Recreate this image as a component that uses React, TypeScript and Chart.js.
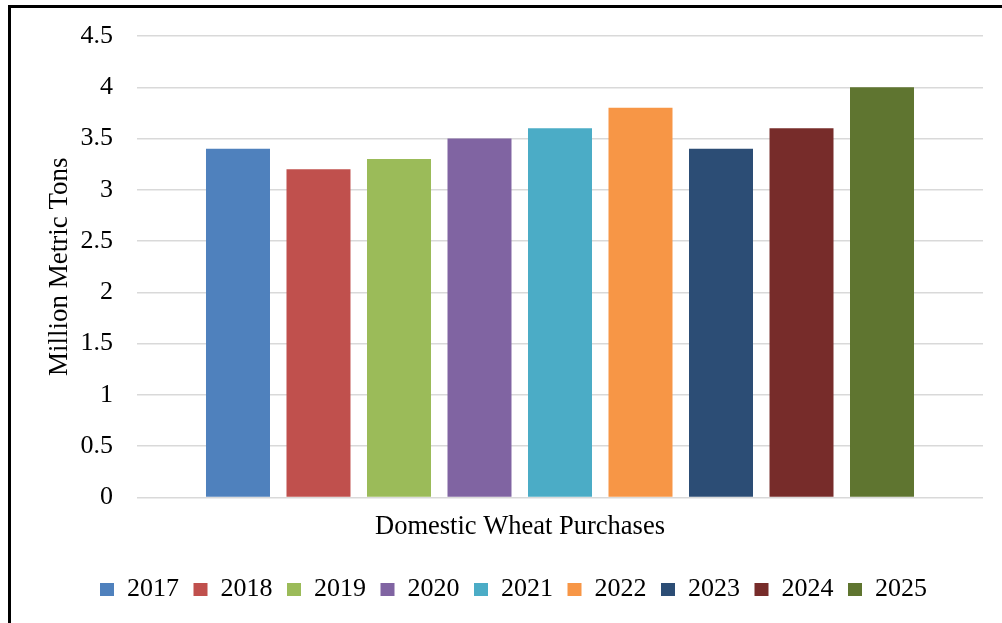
import React, { useEffect, useRef } from "react";
import { Chart, registerables } from "chart.js";

Chart.register(...registerables);

const categories = ["Domestic Wheat Purchases"];
const years = ["2017", "2018", "2019", "2020", "2021", "2022", "2023", "2024", "2025"];
const values = [3.4, 3.2, 3.3, 3.5, 3.6, 3.8, 3.4, 3.6, 4.0];
const colors = ["#4F81BD", "#C0504D", "#9BBB59", "#8064A2", "#4BACC6", "#F79646", "#2C4D75", "#772C2A", "#5F7530"];
const yTitle = "Million Metric Tons";

const FONT = "'Liberation Serif', 'Times New Roman', serif";

export default function App() {
  const ref = useRef<HTMLCanvasElement | null>(null);

  useEffect(() => {
    if (!ref.current) return;
    const chart = new Chart(ref.current, {
      type: "bar",
      data: {
        labels: categories,
        datasets: years.map((y, i) => ({
          label: y,
          data: [values[i]],
          backgroundColor: colors[i],
          borderWidth: 0,
          categoryPercentage: 0.8564,
          barPercentage: 0.795,
        })),
      },
      options: {
        animation: false,
        responsive: false,
        maintainAspectRatio: false,
        layout: { padding: { top: 36, right: 19, bottom: 10.5, left: 44 } },
        plugins: {
          tooltip: { enabled: false },
          legend: {
            position: "bottom",
            labels: {
              boxWidth: 14,
              boxHeight: 13,
              padding: 14.5,
              color: "#000",
              font: { family: FONT, size: 26 },
            },
          },
        },
        scales: {
          x: {
            grid: { display: false, drawTicks: false },
            border: { display: false },
            ticks: { color: "#000", font: { family: FONT, size: 26.5 }, padding: 14, labelOffset: -40 },
            afterFit: (s: any) => {
              s.height = 64.5;
            },
          },
          y: {
            min: 0,
            max: 4.5,
            ticks: {
              stepSize: 0.5,
              color: "#000",
              font: { family: FONT, size: 26 },
              padding: 24,
              callback: (v: any) => String(Number(v)),
            },
            grid: { color: "#D9D9D9", lineWidth: 1.5, drawTicks: false },
            border: { display: false },
            title: {
              display: true,
              text: yTitle,
              color: "#000",
              font: { family: FONT, size: 27 },
              padding: { top: 0, bottom: 0 },
            },
            afterFit: (s: any) => {
              s.width = 93;
              s.paddingTop = 0;
              s.paddingBottom = 0;
            },
          },
        },
      },
    });
    return () => chart.destroy();
  }, []);

  return (
    <div style={{ position: "fixed", left: 0, top: 0, width: 1002, height: 623, background: "#fff", overflow: "hidden" }}>
      <canvas ref={ref} width={1002} height={623} style={{ position: "absolute", left: 0, top: 0 }} />
      <div style={{ position: "absolute", left: 8, top: 5, width: 994, height: 3, background: "#000" }} />
      <div style={{ position: "absolute", left: 8, top: 5, width: 3, height: 618, background: "#000" }} />
    </div>
  );
}
